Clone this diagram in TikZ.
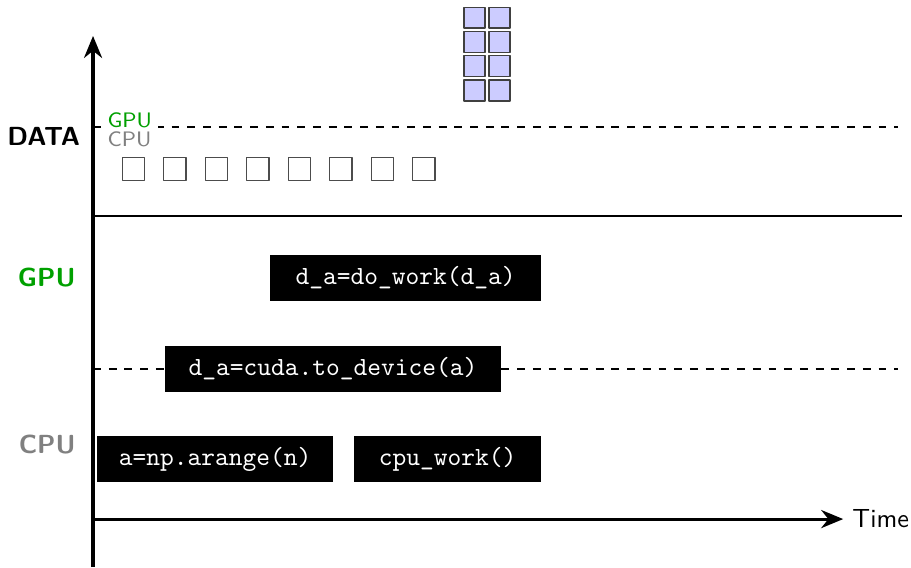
\documentclass[tikz,border=0pt]{standalone}
\usetikzlibrary{arrows.meta}
\definecolor{gpugreen}{RGB}{0,160,0}
\definecolor{cpugray}{RGB}{128,128,128}
\begin{document}
\begin{tikzpicture}[>={Stealth[length=8.4pt,width=6.9pt]},line join=round,every node/.style={font=\sffamily},
	code/.style={fill=black,text=white,font=\ttfamily,inner xsep=2pt,inner ysep=0pt,minimum height=17.5pt},
	chunk/.style={draw=black!70,thin,minimum size=0.3cm,inner sep=0pt},
	devchunk/.style={draw=black!75,fill=blue!20,semithick,minimum size=0.28cm,inner sep=0pt},
	declare function={xend = 10.86; ymin = -0.644; ymax = 6.485; }]
			\useasboundingbox (-1.249,ymin) rectangle (10.98,6.968);
			\path
			(0,0) coordinate (O)
			(0,ymin) coordinate (B)
			(0,ymax) coordinate (Y)
			(10.07,0) coordinate (T)
			(0,5.263) coordinate (D1)
			(10.8,5.263) coordinate (D2)
			(0,4.068) coordinate (S1)
			(xend,4.068) coordinate (S2)
			(0,2.014) coordinate (M1)
			(10.8,2.014) coordinate (M2);
			\draw[thick,dashed] (D1) -- (D2);
			\draw[thick] (S1) -- (S2);
			\draw[thick,dashed] (M1) -- (M2);
			\draw[very thick,->] (B) -- (Y);
			\draw[very thick,->] (O) -- (T);
			\node[right] (time) at (T) {Time};
			% row labels
			\node[left,font=\sffamily\bfseries] (data) at (-0.05,5.142) {DATA};
			\node[left,font=\sffamily\bfseries,text=gpugreen] (gpu) at (-0.11,3.236) {GPU};
			\node[left,font=\sffamily\bfseries,text=cpugray] (cpu) at (-0.11,0.994) {CPU};
			\node[anchor=base west,font=\sffamily\footnotesize,text=gpugreen,fill=white,inner xsep=2.5pt,inner ysep=1pt] (gpumem) at (0.1,5.263) {GPU};
			\node[anchor=base west,font=\sffamily\footnotesize,text=cpugray,inner xsep=2.5pt,inner ysep=1pt] (cpumem) at (0.1,4.999) {CPU};
			% host array
			\foreach \i in {0,...,7}
			\node[chunk] (h\i) at ({0.541+0.557*\i},4.699) {};
			% device array
			\foreach \r in {0,...,3}
			\foreach \c in {0,1}
			\node[devchunk] (d\r\c) at ({5.118+0.336*\c},{6.729-0.3245*\r}) {};
			% calls
			\node[code,minimum width=103.5pt] (work) at (4.196,3.236) {d\_a=do\_work(d\_a)};
			\node[code,minimum width=128.4pt] (copy) at (3.222,2.014) {d\_a=cuda.to\_device(a)};
			\node[code,minimum width=90.2pt] (alloc) at (1.638,0.806) {a=np.arange(n)};
			\node[code,minimum width=71.4pt] (cpuwork) at (4.760,0.806) {cpu\_work()};
		\end{tikzpicture}
\end{document}
